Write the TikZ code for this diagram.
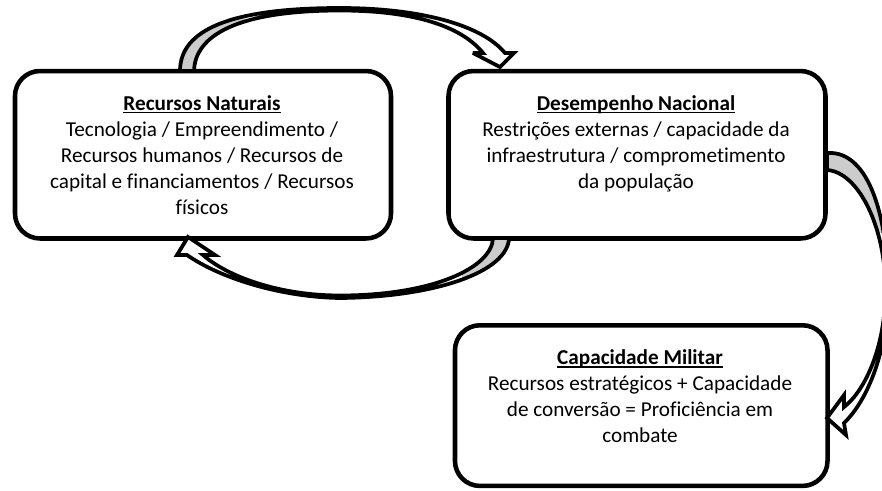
\documentclass[tikz,border=0pt]{standalone}
\usepackage{fontspec}
\setmainfont{Carlito}[Ligatures={NoCommon,NoRare,NoContextual}]
\newcommand\myul[1]{\setbox0\hbox{#1}\rlap{\rule[-2.4pt]{\wd0}{1.2pt}}\box0}
\newcommand\fstrut{\rule{0pt}{13pt}}
\begin{document}
\begin{tikzpicture}[x=0.75pt,y=-0.75pt,
  box/.style={draw, line width=3.4pt, rounded corners=18.75pt, fill=white, inner sep=0pt},
  txt/.style={align=center, inner sep=0pt, anchor=north, font=\fontsize{15.9}{19.5}\selectfont},
  arrowline/.style={draw=black, line width=2.8pt, miter limit=4},
  underside/.style={fill=black!20}]
\useasboundingbox (0,0) rectangle (882,490);
\clip (0,0) rectangle (882,490);

% boxes
\node[box, minimum width=282pt, minimum height=125.6pt] (nat) at (203,154.75) {};
\node[box, minimum width=282.75pt, minimum height=125.6pt] (des) at (637,154.75) {};
\node[box, minimum width=279.4pt, minimum height=120.5pt] (mil) at (641.25,405.6) {};

\node[txt] (natt) at (202,92.5) {\fstrut\myul{\textbf{Recursos Naturais}}\\Tecnologia / Empreendimento /\\Recursos humanos / Recursos de\\capital e financiamentos / Recursos\\físicos};
\node[txt] (dest) at (636,92.5) {\fstrut\myul{\textbf{Desempenho Nacional}}\\Restrições externas / capacidade da\\infraestrutura / comprometimento\\da população};
\node[txt] (milt) at (640,346.8) {\fstrut\myul{\textbf{Capacidade Militar}}\\Recursos estratégicos + Capacidade\\de conversão = Proficiência em\\combate};

% top arrow: nat -> des
\path[save path=\pa] (180,71) .. controls (180,30) and (230,8) .. (340,8)
  .. controls (420,8) and (482,25) .. (505,53)
  -- (514,53) -- (500,67) -- (473,53) -- (483,53)
  .. controls (463,28) and (418,10.5) .. (340,10.5)
  .. controls (236,10.5) and (195,36) .. (194,71) -- cycle;
\path[fill=white, use path=\pa];
\begin{scope}
\clip (0,0) rectangle (245,80);
\path[underside, use path=\pa];
\end{scope}
\path[arrowline, use path=\pa];

% bottom arrow: des -> nat
\path[save path=\pb] (509,238) .. controls (508,272) and (435,297) .. (340,298)
  .. controls (280,297) and (220,278) .. (187,255)
  -- (177,255) -- (188,237) -- (215,255) -- (203,255)
  .. controls (228,277) and (280,295.5) .. (340,295.5)
  .. controls (432,295.5) and (492,268) .. (493,238) -- cycle;
\path[fill=white, use path=\pb];
\begin{scope}
\clip (462,230) rectangle (520,300);
\path[underside, use path=\pb];
\end{scope}
\path[arrowline, use path=\pb];

% right arrow: des -> mil
\path[save path=\pc] (827,153) .. controls (870,150) and (888,220) .. (888,290)
  .. controls (888,350) and (868,400) .. (844,423)
  -- (846,435) -- (827,418) -- (844,395) -- (844,407)
  .. controls (866,390) and (885.5,345) .. (885.5,290)
  .. controls (885.5,226) and (858,172) .. (827,170) -- cycle;
\path[fill=white, use path=\pc];
\begin{scope}
\clip (820,140) rectangle (890,232);
\path[underside, use path=\pc];
\end{scope}
\path[arrowline, use path=\pc];
\end{tikzpicture}
\end{document}
